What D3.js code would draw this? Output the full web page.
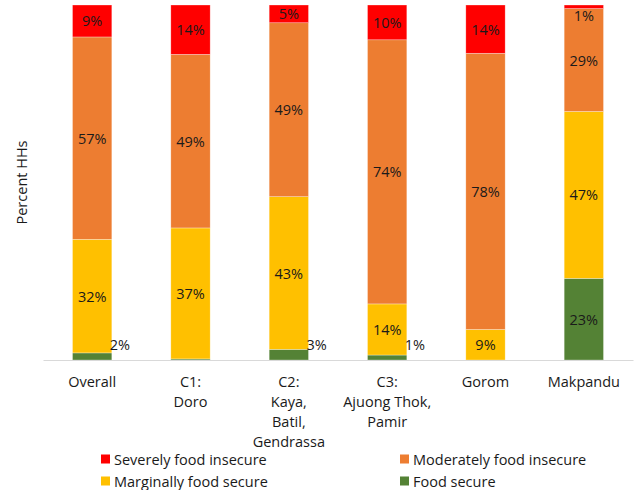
<!DOCTYPE html>
<html>
<head>
<meta charset="utf-8">
<script src="https://cdn.jsdelivr.net/npm/d3@7/dist/d3.min.js"></script>
<style>
  html, body { margin: 0; padding: 0; background: #fff; }
  svg { display: block; font-family: "Open Sans", "Noto Sans", sans-serif; }
</style>
</head>
<body>
<svg id="chart" width="634" height="490"></svg>
<script>
// Household food security by location (percent of HHs)
const categories = [
  ["Overall"],
  ["C1:", "Doro"],
  ["C2:", "Kaya,", "Batil,", "Gendrassa"],
  ["C3:", "Ajuong Thok,", "Pamir"],
  ["Gorom"],
  ["Makpandu"]
];
const seriesNames = ["Food secure", "Marginally food secure", "Moderately food insecure", "Severely food insecure"];
const foodSecure      = [2,  0.3,  3, 1.4,  0,   23];
const marginallySecure = [32, 36.9, 43, 14.4, 8.6, 47];
const moderatelyInsecure = [57, 48.9, 49, 74.4, 77.8, 29];
const severelyInsecure = [9,  13.9, 5,  9.8, 13.6, 1];
const colors = ["#548235", "#FFC000", "#ED7D31", "#FF0000"];
const yTicks = [0, 100];

const svg = d3.select("#chart");
const margin = { left: 43, right: 1, top: 5, bottom: 130 };
const W = 634, H = 490;
const FS = 14.5;

const keys = categories.map((c, i) => i);
const x = d3.scaleBand().domain(keys).range([margin.left, W - margin.right]).paddingInner(0.6).paddingOuter(0.3);
const y = d3.scaleLinear().domain([yTicks[0], yTicks[1]]).range([H - margin.bottom, margin.top]);

const rows = keys.map(i => ({
  i,
  "Food secure": foodSecure[i],
  "Marginally food secure": marginallySecure[i],
  "Moderately food insecure": moderatelyInsecure[i],
  "Severely food insecure": severelyInsecure[i]
}));
const stacked = d3.stack().keys(seriesNames)(rows);

// Bars
const layers = svg.append("g").selectAll("g").data(stacked).join("g")
  .attr("fill", (d, k) => colors[k]);
layers.selectAll("rect").data(d => d).join("rect")
  .attr("x", d => x(d.data.i))
  .attr("width", x.bandwidth())
  .attr("y", d => y(d[1]))
  .attr("height", d => Math.max(0, y(d[0]) - y(d[1])))
  .attr("stroke", "#fff")
  .attr("stroke-opacity", 0.5)
  .attr("stroke-width", 0.6);

// Baseline
const axis = svg.append("g").attr("transform", `translate(0,${y(0)})`)
  .call(d3.axisBottom(x).tickSize(0).tickFormat(""));
axis.select(".domain").attr("stroke", "#d9d9d9").attr("stroke-width", 1);

// Value labels
const labelG = svg.append("g").attr("font-size", FS).attr("fill", "#1a1a1a");
stacked.forEach((layer, k) => {
  layer.forEach(d => {
    const v = d[1] - d[0];
    if (v < 0.5) return;
    const y0 = y(d[0]), y1 = y(d[1]);
    const h = y0 - y1;
    let tx = x(d.data.i) + x.bandwidth() / 2, ty = (y0 + y1) / 2, anchor = "middle";
    if (h < 14 && k === 0) {
      tx = x(d.data.i) + x.bandwidth() - 2; ty = y0 - 16; anchor = "start";
    } else if (h < 14 && k === stacked.length - 1) {
      ty = y0 + 7;
    }
    labelG.append("text")
      .attr("x", tx).attr("y", ty)
      .attr("text-anchor", anchor)
      .attr("dominant-baseline", "central")
      .text(Math.round(v) + "%");
  });
});

// Category labels
const catG = svg.append("g").attr("font-size", FS).attr("fill", "#1a1a1a").attr("text-anchor", "middle");
categories.forEach((lines, i) => {
  const t = catG.append("text").attr("x", x(i) + x.bandwidth() / 2).attr("y", 387);
  lines.forEach((ln, j) => t.append("tspan").attr("x", x(i) + x.bandwidth() / 2).attr("dy", j === 0 ? 0 : 20).text(ln));
});

// Y axis title
svg.append("text")
  .attr("transform", `translate(27,${y(50)}) rotate(-90)`)
  .attr("text-anchor", "middle")
  .attr("font-size", FS)
  .attr("fill", "#1a1a1a")
  .text("Percent HHs");

// Legend
const legendItems = [
  { name: "Severely food insecure", color: colors[3], lx: 101, ly: 459 },
  { name: "Moderately food insecure", color: colors[2], lx: 400, ly: 459 },
  { name: "Marginally food secure", color: colors[1], lx: 101, ly: 481 },
  { name: "Food secure", color: colors[0], lx: 400, ly: 481 }
];
const lg = svg.append("g").attr("font-size", FS).attr("fill", "#1a1a1a");
legendItems.forEach(it => {
  lg.append("rect").attr("x", it.lx).attr("y", it.ly - 4.5).attr("width", 9).attr("height", 9).attr("fill", it.color);
  lg.append("text").attr("x", it.lx + 13).attr("y", it.ly).attr("dominant-baseline", "central").text(it.name);
});
</script>
</body>
</html>
